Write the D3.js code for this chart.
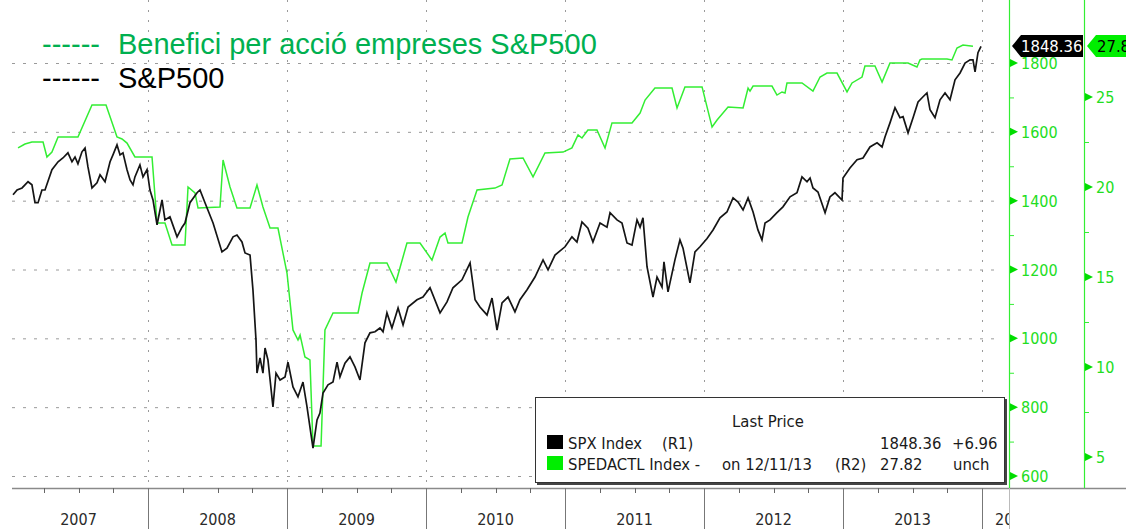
<!DOCTYPE html>
<html>
<head>
<meta charset="utf-8">
<script src="https://cdn.jsdelivr.net/npm/d3@7"></script>
<style>
  body { margin: 0; background: #fff; }
  svg { display: block; }
</style>
</head>
<body>
<script>
var width = 1126;
var height = 529;

// S&P500 (R1) - decimal year, index level
var spxDates = [2007.029,2007.058,2007.094,2007.137,2007.165,2007.187,2007.209,2007.237,2007.259,2007.309,
  2007.353,2007.388,2007.424,2007.453,2007.475,2007.496,2007.525,2007.547,2007.568,2007.597,
  2007.633,2007.655,2007.691,2007.727,2007.748,2007.777,2007.799,2007.820,2007.849,2007.871,
  2007.892,2007.906,2007.942,2007.964,2007.993,2008.014,2008.036,2008.065,2008.101,2008.122,
  2008.158,2008.209,2008.245,2008.266,2008.302,2008.353,2008.374,2008.410,2008.468,2008.532,
  2008.568,2008.612,2008.640,2008.676,2008.698,2008.734,2008.755,2008.777,2008.784,2008.806,
  2008.827,2008.842,2008.863,2008.899,2008.921,2008.950,2008.986,2009.007,2009.043,2009.079,
  2009.115,2009.144,2009.187,2009.216,2009.237,2009.259,2009.295,2009.331,2009.360,2009.381,
  2009.417,2009.453,2009.489,2009.525,2009.561,2009.597,2009.633,2009.669,2009.691,2009.719,
  2009.755,2009.799,2009.835,2009.871,2009.935,2009.978,2010.029,2010.101,2010.151,2010.194,
  2010.259,2010.317,2010.353,2010.388,2010.439,2010.475,2010.511,2010.547,2010.590,2010.640,
  2010.676,2010.727,2010.784,2010.842,2010.878,2010.928,2011.000,2011.050,2011.086,2011.122,
  2011.165,2011.201,2011.252,2011.302,2011.324,2011.374,2011.410,2011.446,2011.482,2011.518,
  2011.540,2011.561,2011.590,2011.633,2011.662,2011.698,2011.712,2011.741,2011.791,2011.827,
  2011.849,2011.899,2011.935,2011.971,2012.022,2012.065,2012.115,2012.165,2012.209,2012.245,
  2012.281,2012.317,2012.353,2012.388,2012.417,2012.439,2012.475,2012.525,2012.568,2012.619,
  2012.669,2012.705,2012.741,2012.763,2012.784,2012.820,2012.871,2012.906,2012.942,2012.971,
  2012.993,2013.000,2013.050,2013.101,2013.144,2013.194,2013.245,2013.281,2013.302,2013.338,
  2013.374,2013.410,2013.432,2013.468,2013.504,2013.540,2013.576,2013.604,2013.626,2013.662,
  2013.698,2013.734,2013.770,2013.806,2013.842,2013.878,2013.914,2013.935,2013.950,2013.971,
  2013.993];
var spxValues = [1417,1431,1437,1455,1446,1394,1394,1431,1431,1490,
  1513,1524,1539,1513,1527,1507,1542,1553,1498,1437,
  1452,1475,1455,1513,1533,1562,1533,1539,1490,1460,
  1446,1469,1504,1469,1490,1431,1402,1330,1402,1344,
  1353,1295,1323,1335,1394,1423,1431,1394,1335,1251,
  1262,1295,1300,1280,1248,1242,1141,995,899,943,
  899,972,937,801,899,879,888,931,859,830,
  873,801,681,763,783,841,865,873,931,888,
  928,946,917,879,987,1016,1019,1030,1019,1074,
  1030,1088,1039,1091,1112,1120,1147,1074,1106,1147,
  1170,1219,1112,1091,1068,1117,1024,1103,1120,1077,
  1112,1141,1178,1228,1199,1242,1266,1295,1280,1338,
  1320,1280,1335,1323,1365,1344,1335,1277,1271,1344,
  1323,1350,1208,1120,1178,1149,1222,1135,1228,1286,
  1262,1161,1251,1266,1290,1315,1350,1367,1408,1396,
  1373,1408,1367,1315,1286,1335,1344,1365,1382,1411,
  1423,1469,1455,1466,1437,1425,1365,1411,1423,1411,
  1402,1466,1495,1519,1524,1556,1568,1556,1585,1626,
  1670,1641,1644,1597,1641,1687,1702,1713,1664,1641,
  1693,1713,1693,1751,1771,1800,1809,1809,1774,1830,
  1848.36];

// Benefici per accio (R2)
var epsDates = [2007.065,2007.115,2007.165,2007.245,2007.273,2007.309,2007.353,2007.496,2007.597,2007.698,
  2007.777,2007.813,2007.849,2007.906,2008.029,2008.065,2008.122,2008.173,2008.266,2008.288,
  2008.338,2008.360,2008.518,2008.540,2008.590,2008.640,2008.734,2008.784,2008.827,2008.878,
  2008.935,2009.000,2009.043,2009.079,2009.094,2009.129,2009.165,2009.187,2009.245,2009.273,
  2009.331,2009.511,2009.540,2009.597,2009.719,2009.784,2009.863,2009.957,2010.043,2010.101,
  2010.137,2010.158,2010.259,2010.302,2010.367,2010.496,2010.547,2010.604,2010.698,2010.770,
  2010.856,2010.986,2011.050,2011.094,2011.122,2011.165,2011.230,2011.288,2011.338,2011.482,
  2011.540,2011.576,2011.647,2011.770,2011.806,2011.863,2011.986,2012.058,2012.094,2012.173,
  2012.281,2012.317,2012.331,2012.353,2012.489,2012.525,2012.561,2012.583,2012.597,2012.705,
  2012.784,2012.835,2012.885,2012.957,2013.029,2013.065,2013.137,2013.158,2013.230,2013.281,
  2013.338,2013.468,2013.532,2013.554,2013.568,2013.748,2013.784,2013.820,2013.863,2013.935];
var epsValues = [22.17,22.39,22.5,22.5,21.67,21.94,22.78,22.78,24.56,24.56,
  22.78,22.67,22.44,21.67,21.67,18.0,18.0,16.78,16.78,20.0,
  19.67,18.83,18.89,21.5,20.0,18.83,18.83,20.11,18.89,17.72,
  17.72,15.22,12.06,11.5,11.78,10.56,10.39,5.61,5.61,12.06,
  13.0,13.0,14.11,15.78,15.78,14.72,16.89,16.89,15.94,17.22,
  17.44,16.89,16.89,18.33,19.83,19.94,20.11,21.56,21.61,20.56,
  21.89,21.94,22.17,22.89,22.72,23.17,23.17,22.17,23.56,23.56,
  24.11,24.83,25.5,25.5,24.39,25.56,25.56,23.33,23.72,24.44,
  24.39,25.5,25.33,25.61,25.61,25.11,25.28,25.22,25.78,25.78,
  25.33,26.11,26.33,26.33,25.28,25.78,26.11,26.72,26.72,25.83,
  26.89,26.89,26.67,27.06,27.11,27.11,27.06,27.72,27.89,27.82];

var years = [2007, 2008, 2009, 2010, 2011, 2012, 2013, 2014];
var leftTicks = [600, 800, 1000, 1200, 1400, 1600, 1800];
var rightTicks = [5, 10, 15, 20, 25];

var green = "#33ee33";
var greenText = "#22dd22";
var condensed = "'DejaVu Sans Condensed', 'DejaVu Sans', sans-serif";

var svg = d3.select("body").append("svg").attr("width", width).attr("height", height);
svg.append("rect").attr("width", width).attr("height", height).attr("fill", "#fff");

var x = d3.scaleLinear().domain([2007, 2014]).range([9, 982]);
var yL = d3.scaleLinear().domain([600, 1800]).range([476, 63]);
var yR = d3.scaleLinear().domain([5, 25]).range([457, 97]);

var axisY = 488;
var r1x = 1009, r2x = 1084;

// grid
svg.append("g").selectAll("line").data(leftTicks).enter().append("line")
  .attr("x1", 12).attr("x2", 1002)
  .attr("y1", function(d){ return yL(d) + 0.5; }).attr("y2", function(d){ return yL(d) + 0.5; })
  .attr("stroke", "#9a9a9a").attr("stroke-dasharray", "3,8");

svg.append("g").selectAll("line").data(years.slice(1)).enter().append("line")
  .attr("x1", function(d){ return Math.round(x(d)) + 0.5; }).attr("x2", function(d){ return Math.round(x(d)) + 0.5; })
  .attr("y1", 0).attr("y2", axisY)
  .attr("stroke", "#9a9a9a").attr("stroke-dasharray", "2,8");

// series
var spx = spxDates.map(function(d, i){ return [d, spxValues[i]]; });
var eps = epsDates.map(function(d, i){ return [d, epsValues[i]]; });

svg.append("path").datum(eps)
  .attr("fill", "none").attr("stroke", green).attr("stroke-width", 1.5)
  .attr("d", d3.line().x(function(d){ return x(d[0]); }).y(function(d){ return yR(d[1]); }));

svg.append("path").datum(spx)
  .attr("fill", "none").attr("stroke", "#151515").attr("stroke-width", 1.7)
  .attr("d", d3.line().x(function(d){ return x(d[0]); }).y(function(d){ return yL(d[1]); }));

// bottom axis
svg.append("line").attr("x1", 12).attr("x2", width).attr("y1", axisY + 0.5).attr("y2", axisY + 0.5)
  .attr("stroke", "#8a8a8a").attr("stroke-width", 1.5);

var quarters = [];
years.slice(0, -1).forEach(function(yr){ [0.25, 0.5, 0.75].forEach(function(q){ quarters.push(yr + q); }); });
svg.append("g").selectAll("line").data(quarters).enter().append("line")
  .attr("x1", function(d){ return Math.round(x(d)) + 0.5; }).attr("x2", function(d){ return Math.round(x(d)) + 0.5; })
  .attr("y1", axisY).attr("y2", axisY + 5).attr("stroke", "#666");

svg.append("g").selectAll("line").data(years.slice(1)).enter().append("line")
  .attr("x1", function(d){ return Math.round(x(d)) + 0.5; }).attr("x2", function(d){ return Math.round(x(d)) + 0.5; })
  .attr("y1", axisY).attr("y2", height).attr("stroke", "#777");

svg.append("line").attr("x1", r1x + 0.5).attr("x2", r1x + 0.5).attr("y1", axisY).attr("y2", height)
  .attr("stroke", "#bbb");

svg.append("clipPath").attr("id", "xclip").append("rect")
  .attr("x", 0).attr("y", axisY).attr("width", r1x).attr("height", height - axisY);

svg.append("g").attr("clip-path", "url(#xclip)").selectAll("text").data(years).enter().append("text")
  .attr("x", function(d){ return d < 2014 ? x(d + 0.5) : x(d) + 13; }).attr("y", 525)
  .attr("text-anchor", function(d){ return d < 2014 ? "middle" : "start"; })
  .attr("font-family", condensed).attr("font-size", 16).attr("fill", "#2a2a2a")
  .text(function(d){ return d; });

// right axes
function rightAxis(ax, scale, ticks, minor) {
  var g = svg.append("g");
  g.append("line").attr("x1", ax + 0.5).attr("x2", ax + 0.5).attr("y1", 0).attr("y2", axisY)
    .attr("stroke", green).attr("stroke-width", 1.2);
  g.selectAll(".mn").data(minor).enter().append("line")
    .attr("x1", ax).attr("x2", ax + 5)
    .attr("y1", function(d){ return scale(d) + 0.5; }).attr("y2", function(d){ return scale(d) + 0.5; })
    .attr("stroke", green);
  g.selectAll(".tri").data(ticks).enter().append("path")
    .attr("d", function(d){ var y = scale(d); return "M" + (ax + 1) + "," + (y - 4) + "L" + (ax + 9) + "," + y + "L" + (ax + 1) + "," + (y + 4) + "Z"; })
    .attr("fill", "#00dd00");
  g.selectAll("text").data(ticks).enter().append("text")
    .attr("x", ax + 12).attr("y", function(d){ return scale(d) + 6; })
    .attr("font-family", condensed).attr("font-size", 16).attr("fill", greenText)
    .text(function(d){ return d; });
}
rightAxis(r1x, yL, leftTicks, [700, 900, 1100, 1300, 1500, 1700]);
rightAxis(r2x, yR, rightTicks, [7.5, 12.5, 17.5, 22.5]);

// last value tags
var lastSpx = spxValues[spxValues.length - 1];
var lastEps = epsValues[epsValues.length - 1];
var ty = 46;
svg.append("path")
  .attr("d", "M1012," + ty + "L1021," + (ty - 11) + "L1083," + (ty - 11) + "L1083," + (ty + 11) + "L1021," + (ty + 11) + "Z")
  .attr("fill", "#000");
svg.append("text").attr("x", 1021).attr("y", ty + 6).attr("font-family", condensed).attr("font-size", 16.5)
  .attr("fill", "#fff").text(lastSpx.toFixed(2));
svg.append("path")
  .attr("d", "M1087," + ty + "L1096," + (ty - 11) + "L1130," + (ty - 11) + "L1130," + (ty + 11) + "L1096," + (ty + 11) + "Z")
  .attr("fill", "#00ee00");
svg.append("text").attr("x", 1097).attr("y", ty + 6).attr("font-family", condensed).attr("font-size", 16.5)
  .attr("fill", "#000").text(lastEps.toFixed(2));

// title
var title = svg.append("g").attr("font-family", "'Liberation Sans', Arial, sans-serif").attr("font-size", 29);
title.append("text").attr("x", 42).attr("y", 54).attr("fill", "#00b050").text("------");
title.append("text").attr("x", 118).attr("y", 54).attr("fill", "#00b050").text("Benefici per acció empreses S&P500");
title.append("text").attr("x", 42).attr("y", 88).attr("fill", "#000").text("------");
title.append("text").attr("x", 118).attr("y", 88).attr("fill", "#000").text("S&P500");

// legend box
var lg = svg.append("g").attr("font-family", condensed).attr("font-size", 16.5).attr("fill", "#1a1a1a");
lg.append("rect").attr("x", 537).attr("y", 399).attr("width", 470).attr("height", 86).attr("fill", "#444");
lg.append("rect").attr("x", 535.5).attr("y", 397.5).attr("width", 469).attr("height", 85)
  .attr("fill", "#fff").attr("stroke", "#333");
lg.append("text").attr("x", 768).attr("y", 427).attr("text-anchor", "middle").text("Last Price");
lg.append("rect").attr("x", 547).attr("y", 435).attr("width", 16).attr("height", 14).attr("fill", "#000");
lg.append("rect").attr("x", 547).attr("y", 456).attr("width", 16).attr("height", 14).attr("fill", "#00ee00");
lg.append("text").attr("x", 568).attr("y", 449).text("SPX Index");
lg.append("text").attr("x", 662).attr("y", 449).text("(R1)");
lg.append("text").attr("x", 568).attr("y", 470).text("SPEDACTL Index -");
lg.append("text").attr("x", 722).attr("y", 470).text("on 12/11/13");
lg.append("text").attr("x", 835).attr("y", 470).text("(R2)");
lg.append("text").attr("x", 880).attr("y", 449).text(lastSpx.toFixed(2));
lg.append("text").attr("x", 880).attr("y", 470).text(lastEps.toFixed(2));
lg.append("text").attr("x", 952).attr("y", 449).text("+6.96");
lg.append("text").attr("x", 953).attr("y", 470).text("unch");
</script>
</body>
</html>
